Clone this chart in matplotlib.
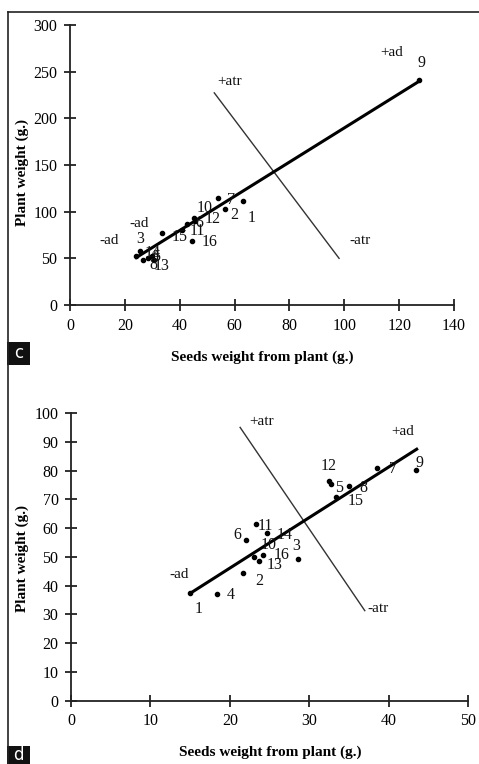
import matplotlib
matplotlib.use("Agg")
import matplotlib.pyplot as plt
from matplotlib.lines import Line2D
from matplotlib.patches import Rectangle

# ---------------- data: panel c ----------------
genotypes = [str(i) for i in range(1, 17)]
c_seeds = [63.1, 56.5, 25.5, 28.5, 30.0, 42.5, 54.0, 26.7, 127.3, 45.2, 41.0, 45.5, 30.5, 24.0, 33.4, 44.3]
c_plant = [111.7, 103.0, 58.1, 50.0, 52.5, 86.4, 114.2, 48.2, 240.9, 92.8, 80.0, 90.0, 48.5, 53.0, 76.8, 68.5]
c_ad_x = [23.7, 126.9]
c_ad_y = [50.0, 239.0]
c_atr_x = [52.6, 98.1]
c_atr_y = [227.3, 50.0]
c_xticks = [0, 20, 40, 60, 80, 100, 120, 140]
c_yticks = [0, 50, 100, 150, 200, 250, 300]

# ---------------- data: panel d ----------------
d_seeds = [15.0, 21.7, 28.6, 18.4, 32.7, 22.0, 38.6, 35.0, 43.5, 24.2, 23.3, 32.5, 23.0, 24.7, 33.4, 23.7]
d_plant = [37.3, 44.3, 49.1, 37.1, 75.3, 55.9, 80.8, 74.6, 80.2, 50.6, 61.3, 76.5, 49.8, 58.4, 70.9, 48.6]
d_ad_x = [15.0, 43.7]
d_ad_y = [37.3, 87.7]
d_atr_x = [21.3, 37.0]
d_atr_y = [95.0, 31.3]
d_xticks = [0, 10, 20, 30, 40, 50]
d_yticks = [0, 10, 20, 30, 40, 50, 60, 70, 80, 90, 100]

x_label = "Seeds weight from plant (g.)"
y_label = "Plant weight (g.)"

# ---------------- styling (label offsets in pixels) ----------------
c_offsets = [(9, -17), (9, -6), (0, 12), (8, 2), (4, -1), (13, 1), (13, -2), (10, -5),
             (2, 17), (11, 10), (15, -1), (18, 2), (8, -6), (17, 3), (18, -4), (18, -1)]
d_offsets = [(9, -16), (16, -8), (-2, 13), (14, -1), (8, -4), (-8, 5), (16, -1), (14, -2),
             (3, 7), (5, 10), (9, -2), (0, 15), (21, -8), (18, -2), (19, -4), (22, 6)]

serif = ["Liberation Serif", "DejaVu Serif"]
plt.rcParams["font.family"] = serif

W, H = 479, 764
fig = plt.figure(figsize=(W / 100, H / 100), dpi=100)


def style_axes(ax, xticks, yticks):
    for s in ("top", "right"):
        ax.spines[s].set_visible(False)
    for s in ("left", "bottom"):
        ax.spines[s].set_linewidth(1.3)
        ax.spines[s].set_color("#222222")
    ax.set_xlim(xticks[0], xticks[-1])
    ax.set_ylim(yticks[0], yticks[-1])
    ax.set_xticks(xticks)
    ax.set_yticks(yticks)
    ax.tick_params(direction="inout", length=8, width=1.3, color="#222222",
                   labelsize=11.5, pad=5)
    for lab in ax.get_xticklabels() + ax.get_yticklabels():
        lab.set_fontfamily(serif)


def panel(ax, sx, sy, offs, adx, ady, atrx, atry, texts):
    ax.plot(adx, ady, color="black", lw=2.2, solid_capstyle="butt", zorder=3)
    ax.plot(atrx, atry, color="#333333", lw=1.0, zorder=2)
    ax.plot(sx, sy, linestyle="none", marker="o", ms=3.0, color="black", zorder=4)
    for g, x, y, (dx, dy) in zip(genotypes, sx, sy, offs):
        ax.annotate(g, (x, y), xytext=(dx, dy), textcoords="offset pixels",
                    ha="center", va="center", fontsize=11.5, color="#111111",
                    fontfamily=serif, zorder=5)
    for t, x, y in texts:
        ax.text(x, y, t, ha="center", va="center", fontsize=11, color="#111111",
                fontfamily=serif)


# panel c
axc = fig.add_axes([70 / W, 1 - 305 / H, 384 / W, 280 / H])
axc.patch.set_alpha(0)
style_axes(axc, c_xticks, c_yticks)
panel(axc, c_seeds, c_plant, c_offsets, c_ad_x, c_ad_y, c_atr_x, c_atr_y,
      [("+atr", 58.3, 239), ("-atr", 105.6, 69.6), ("+ad", 117.2, 271),
       ("-ad", 25.3, 87.4), ("-ad", 14.3, 69.6)])

# panel d
axd = fig.add_axes([71 / W, 1 - 700.7 / H, 397 / W, 287.7 / H])
axd.patch.set_alpha(0)
style_axes(axd, d_xticks, d_yticks)
panel(axd, d_seeds, d_plant, d_offsets, d_ad_x, d_ad_y, d_atr_x, d_atr_y,
      [("+atr", 24.0, 97.0), ("-atr", 38.7, 32.1), ("+ad", 41.8, 93.5),
       ("-ad", 13.6, 44.0)])

# axis titles
fig.text(262 / W, 1 - 357 / H, x_label, ha="center", va="center",
         fontsize=11, fontweight="bold", fontfamily=serif)
fig.text(22 / W, 1 - 173 / H, y_label, ha="center", va="center", rotation=90,
         fontsize=11, fontweight="bold", fontfamily=serif)
fig.text(270 / W, 1 - 752 / H, x_label, ha="center", va="center",
         fontsize=11, fontweight="bold", fontfamily=serif)
fig.text(22 / W, 1 - 558 / H, y_label, ha="center", va="center", rotation=90,
         fontsize=11, fontweight="bold", fontfamily=serif)

# outer frame lines
fig.add_artist(Line2D([7.5 / W, 7.5 / W], [0, 1 - 12 / H], color="#222222", lw=1.2))
fig.add_artist(Line2D([7.5 / W, 1], [1 - 12 / H, 1 - 12 / H], color="#222222", lw=1.2))

# panel letters
for letter, y0, y1 in (("c", 342, 365), ("d", 746, 764)):
    fig.add_artist(Rectangle((7 / W, 1 - y1 / H), 23 / W, (y1 - y0) / H,
                             transform=fig.transFigure, color="#111111", lw=0))
    fig.text(18.5 / W, 1 - (y0 + y1) / 2 / H, letter, ha="center", va="center",
             color="white", fontsize=12, fontfamily=["DejaVu Sans"])

fig.savefig("out.png", dpi=100)
